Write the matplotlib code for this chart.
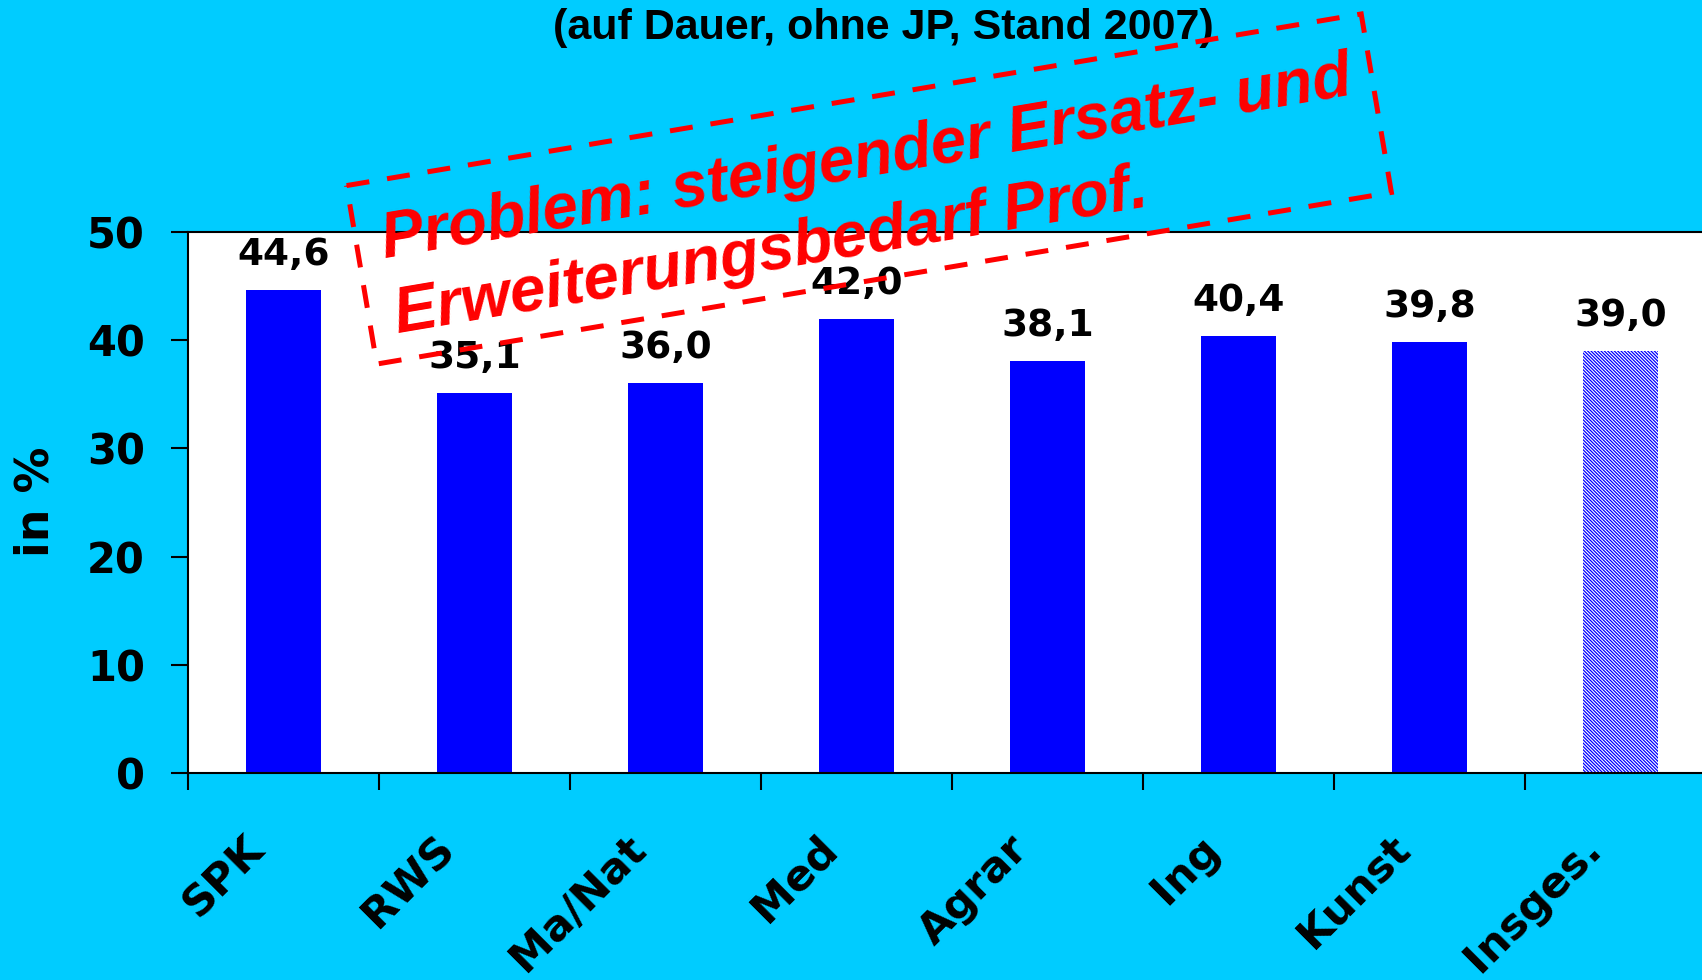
import numpy as np
import matplotlib
matplotlib.use('Agg')
import matplotlib.pyplot as plt
import matplotlib.transforms as mtransforms
from matplotlib.patches import Polygon

# Data
categories = ['SPK', 'RWS', 'Ma/Nat', 'Med', 'Agrar', 'Ing', 'Kunst', 'Insges.']
values = [44.6, 35.1, 36.0, 42.0, 38.1, 40.4, 39.8, 39.0]
value_labels = ['44,6', '35,1', '36,0', '42,0', '38,1', '40,4', '39,8', '39,0']
y_ticks = [0, 10, 20, 30, 40, 50]
title = '(auf Dauer, ohne JP, Stand 2007)'
note_lines = ['Problem: steigender Ersatz- und', 'Erweiterungsbedarf Prof.']

W, H = 1702, 980
BG = '#00CCFF'
BLUE = '#0000FF'
RED = '#FF0000'


def fx(px):
    return px / W


def fy(py):
    return 1 - py / H


plt.rcParams['font.family'] = ['DejaVu Sans']
plt.rcParams['hatch.linewidth'] = 0.9

fig = plt.figure(figsize=(W / 100, H / 100), dpi=100, facecolor=BG)
ax = fig.add_axes([fx(188), fy(773), 1528 / W, (773 - 232) / H])
ax.set_facecolor('white')

x = np.arange(len(categories))
ax.bar(x[:-1], values[:-1], width=0.39, color=BLUE, zorder=2)
# "Insges." bar: fine blue/white diagonal pattern
ax.bar(x[-1:], values[-1:], width=0.39, color='white', edgecolor=BLUE,
       hatch='\\' * 10, linewidth=0, zorder=2)

ax.set_xlim(-0.5, len(categories) - 0.5)
ax.set_ylim(0, 50)

for s in ax.spines.values():
    s.set_linewidth(1.5)
    s.set_color('black')

# ticks: y normal, x at category boundaries
ax.set_yticks(y_ticks)
ax.set_yticklabels([str(v) for v in y_ticks], fontsize=30, fontweight='bold')
ax.tick_params(axis='y', direction='out', length=12.2, width=1.5, pad=18.7)
ax.set_xticks(np.arange(-0.5, len(categories) + 0.5, 1))
ax.set_xticklabels([])
ax.tick_params(axis='x', direction='out', length=12.2, width=1.5)

# category labels under the bars
base = mtransforms.blended_transform_factory(ax.transData, ax.transAxes)
lab_tr = mtransforms.offset_copy(base, fig=fig, x=-26, y=-69, units='dots')
for xi, name in zip(x, categories):
    ax.text(xi, 0, name, transform=lab_tr, rotation=45, rotation_mode='anchor',
            ha='right', va='center', fontsize=31, fontweight='bold',
            clip_on=False)

# value labels above the bars
val_tr = mtransforms.offset_copy(ax.transData, fig=fig, x=0, y=25, units='dots')
for xi, v, t in zip(x, values, value_labels):
    ax.text(xi, v, t, transform=val_tr, ha='center', va='baseline',
            fontsize=27, fontweight='bold', zorder=3)

# title and axis label
fig.text(fx(883), fy(39), title, ha='center', va='baseline', fontsize=31,
         fontweight='bold', family='Liberation Sans')
fig.text(fx(36), fy(502), 'in %', rotation=90, ha='center', va='center',
         fontsize=33, fontweight='bold')

# red dashed note box
ang = 9.6
a = np.radians(ang)
cx, cy = 869, H - 189
bw, bh = 1029, 181
u = np.array([np.cos(a), np.sin(a)]) * bw / 2
v = np.array([-np.sin(a), np.cos(a)]) * bh / 2
c = np.array([cx, cy])
corners = np.array([c - u + v, c + u + v, c + u - v, c - u - v])
corners = corners / np.array([W, H])
box = Polygon(corners, closed=True, fill=False, ec=RED, lw=3.6,
              linestyle=(0, (4.6, 3.6)), transform=fig.transFigure, zorder=5)
fig.add_artist(box)

fig.text(fx(385), fy(258), note_lines[0], rotation=ang, rotation_mode='anchor',
         ha='left', va='baseline', color=RED, fontsize=46, fontweight='bold',
         fontstyle='italic', family='Liberation Sans', zorder=6)
fig.text(fx(398), fy(333), note_lines[1], rotation=ang, rotation_mode='anchor',
         ha='left', va='baseline', color=RED, fontsize=46, fontweight='bold',
         fontstyle='italic', family='Liberation Sans', zorder=6)

fig.savefig('out.png', dpi=100, facecolor=BG)
